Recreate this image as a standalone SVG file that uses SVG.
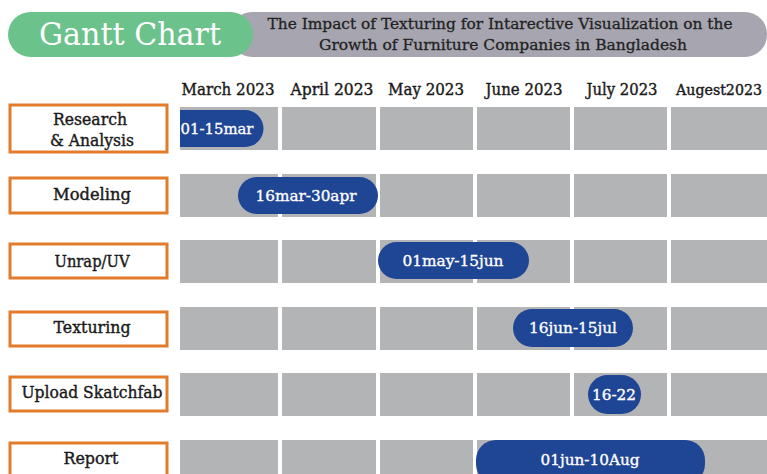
<svg xmlns="http://www.w3.org/2000/svg" width="767" height="474" viewBox="0 0 767 474">
<style>
.box{fill:#fff;stroke:#e27b2b;stroke-width:3}
.cell{fill:#b3b4b6}
.bar{fill:#1f4595}
.bt{font-family:"DejaVu Serif","Liberation Serif",serif;fill:#fff;stroke:#fff;stroke-width:0.35;font-size:15.5px;text-anchor:middle}
.lt{font-family:"DejaVu Serif","Liberation Serif",serif;fill:#1a1a1a;stroke:#1a1a1a;stroke-width:0.4;font-size:16px;text-anchor:middle}
.mt{font-family:"DejaVu Serif","Liberation Serif",serif;fill:#1a1a1a;stroke:#1a1a1a;stroke-width:0.4;font-size:14px}
.st{font-family:"DejaVu Serif","Liberation Serif",serif;fill:#222;stroke:#222;stroke-width:0.3;font-size:15.5px;text-anchor:middle}
</style>
<rect width="767" height="474" fill="#fff"/>
<g id="header">
<rect x="230" y="12" width="537" height="45" rx="22" fill="#a7a6b0"/>
<rect x="8" y="12" width="245" height="45" rx="22.5" fill="#6cc28b"/>
<text x="130" y="45" font-family="DejaVu Serif,Liberation Serif,serif" font-size="31" fill="#fff" text-anchor="middle" textLength="182" lengthAdjust="spacingAndGlyphs">Gantt Chart</text>
<text x="500" y="29" class="st" textLength="465" lengthAdjust="spacingAndGlyphs">The Impact of Texturing for Intarective Visualization on the</text>
<text x="503" y="50" class="st" textLength="368" lengthAdjust="spacingAndGlyphs">Growth of Furniture Companies in Bangladesh</text>
</g>
<g id="months">
<text x="228" y="95" class="lt" textLength="93" lengthAdjust="spacingAndGlyphs">March 2023</text>
<text x="332" y="95" class="lt" textLength="83" lengthAdjust="spacingAndGlyphs">April 2023</text>
<text x="426" y="95" class="lt" textLength="76" lengthAdjust="spacingAndGlyphs">May 2023</text>
<text x="524" y="95" class="lt" textLength="77" lengthAdjust="spacingAndGlyphs">June 2023</text>
<text x="622" y="95" class="lt" textLength="71" lengthAdjust="spacingAndGlyphs">July 2023</text>
<text x="676" y="95" class="mt" textLength="86" lengthAdjust="spacingAndGlyphs">Augest2023</text>
</g>
<g id="grid">
<g id="row1"><rect class="cell" x="180" y="107" width="98" height="43"/><rect class="cell" x="282" y="107" width="94" height="43"/><rect class="cell" x="380" y="107" width="93" height="43"/><rect class="cell" x="477" y="107" width="93" height="43"/><rect class="cell" x="574" y="107" width="93" height="43"/><rect class="cell" x="671" y="107" width="96" height="43"/></g>
<g id="row2"><rect class="cell" x="180" y="174" width="98" height="43"/><rect class="cell" x="282" y="174" width="94" height="43"/><rect class="cell" x="380" y="174" width="93" height="43"/><rect class="cell" x="477" y="174" width="93" height="43"/><rect class="cell" x="574" y="174" width="93" height="43"/><rect class="cell" x="671" y="174" width="96" height="43"/></g>
<g id="row3"><rect class="cell" x="180" y="240" width="98" height="43"/><rect class="cell" x="282" y="240" width="94" height="43"/><rect class="cell" x="380" y="240" width="93" height="43"/><rect class="cell" x="477" y="240" width="93" height="43"/><rect class="cell" x="574" y="240" width="93" height="43"/><rect class="cell" x="671" y="240" width="96" height="43"/></g>
<g id="row4"><rect class="cell" x="180" y="307" width="98" height="43"/><rect class="cell" x="282" y="307" width="94" height="43"/><rect class="cell" x="380" y="307" width="93" height="43"/><rect class="cell" x="477" y="307" width="93" height="43"/><rect class="cell" x="574" y="307" width="93" height="43"/><rect class="cell" x="671" y="307" width="96" height="43"/></g>
<g id="row5"><rect class="cell" x="180" y="373" width="98" height="43"/><rect class="cell" x="282" y="373" width="94" height="43"/><rect class="cell" x="380" y="373" width="93" height="43"/><rect class="cell" x="477" y="373" width="93" height="43"/><rect class="cell" x="574" y="373" width="93" height="43"/><rect class="cell" x="671" y="373" width="96" height="43"/></g>
<g id="row6"><rect class="cell" x="180" y="440" width="98" height="43"/><rect class="cell" x="282" y="440" width="94" height="43"/><rect class="cell" x="380" y="440" width="93" height="43"/><rect class="cell" x="477" y="440" width="93" height="43"/><rect class="cell" x="574" y="440" width="93" height="43"/><rect class="cell" x="671" y="440" width="96" height="43"/></g>
</g>
<g id="task-research"><rect class="box" x="10" y="105" width="157" height="47"/><text class="lt" x="90" y="125" textLength="74" lengthAdjust="spacingAndGlyphs">Research</text><text class="lt" x="92" y="146" textLength="84" lengthAdjust="spacingAndGlyphs">&amp; Analysis</text></g>
<g id="task-modeling"><rect class="box" x="10" y="178" width="157" height="35"/><text class="lt" x="92" y="200" textLength="78" lengthAdjust="spacingAndGlyphs">Modeling</text></g>
<g id="task-unrap"><rect class="box" x="10" y="244" width="157" height="34"/><text class="lt" x="92" y="267" textLength="75" lengthAdjust="spacingAndGlyphs">Unrap/UV</text></g>
<g id="task-texturing"><rect class="box" x="10" y="312" width="157" height="34"/><text class="lt" x="92" y="333" textLength="77" lengthAdjust="spacingAndGlyphs">Texturing</text></g>
<g id="task-upload"><rect class="box" x="10" y="377" width="157" height="34"/><text class="lt" x="92" y="398" textLength="141" lengthAdjust="spacingAndGlyphs">Upload Skatchfab</text></g>
<g id="task-report"><rect class="box" x="10" y="443" width="157" height="40"/><text class="lt" x="91" y="464" textLength="55" lengthAdjust="spacingAndGlyphs">Report</text></g>
<g id="bars">
<g id="bar-research"><path class="bar" d="M180 110 H245 A18.5 18.5 0 0 1 245 147 H180 Z"/><text class="bt" x="217" y="134" textLength="73" lengthAdjust="spacingAndGlyphs">01-15mar</text></g>
<g id="bar-modeling"><rect class="bar" x="238" y="177" width="140" height="37" rx="18.5"/><text class="bt" x="306" y="201" textLength="101" lengthAdjust="spacingAndGlyphs">16mar-30apr</text></g>
<g id="bar-unrap"><rect class="bar" x="378" y="242" width="151" height="37" rx="18.5"/><text class="bt" x="453" y="266" textLength="101" lengthAdjust="spacingAndGlyphs">01may-15jun</text></g>
<g id="bar-texturing"><rect class="bar" x="513" y="309" width="120" height="38" rx="19"/><text class="bt" x="573" y="333" textLength="88" lengthAdjust="spacingAndGlyphs">16jun-15jul</text></g>
<g id="bar-upload"><rect class="bar" x="588" y="375" width="53" height="39" rx="19.5"/><text class="bt" x="614" y="400" textLength="44" lengthAdjust="spacingAndGlyphs">16-22</text></g>
<g id="bar-report"><rect class="bar" x="476" y="440" width="229" height="44" rx="20"/><text class="bt" x="590" y="465" textLength="99" lengthAdjust="spacingAndGlyphs">01jun-10Aug</text></g>
</g>
</svg>
